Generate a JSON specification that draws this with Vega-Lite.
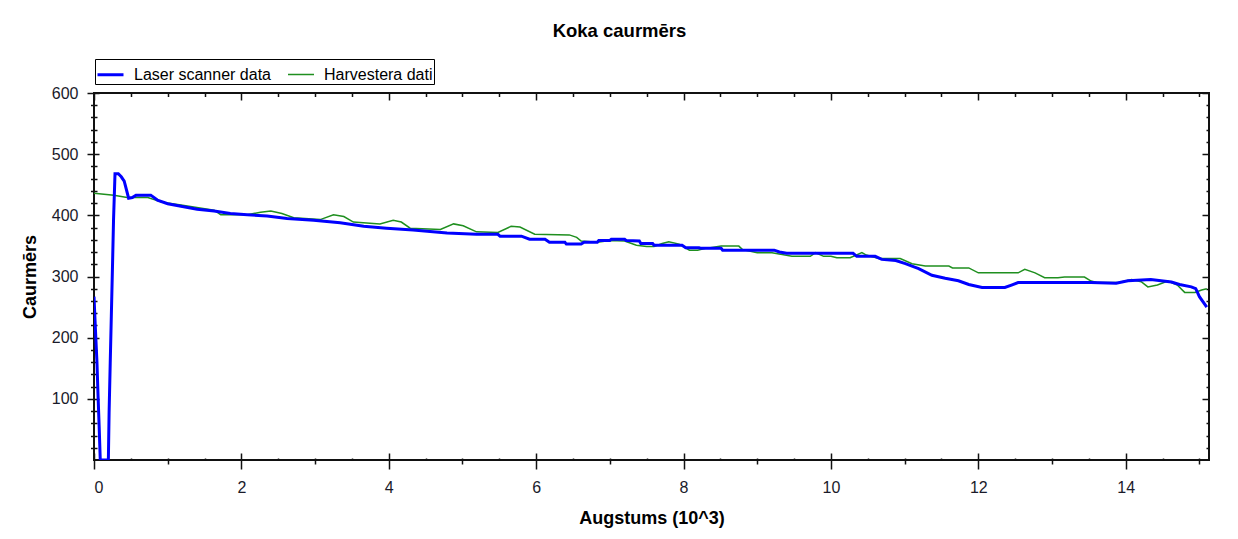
{
  "$schema": "https://vega.github.io/schema/vega-lite/v6.json",
  "width": 1115,
  "height": 367,
  "autosize": "none",
  "padding": {"left": 94, "top": 93, "right": 29, "bottom": 79},
  "background": "white",
  "title": {
    "text": "Koka caurmērs",
    "anchor": "middle",
    "frame": "group",
    "dx": -32,
    "offset": 18,
    "font": "Liberation Sans",
    "fontSize": 18.5,
    "fontWeight": "bold",
    "color": "#000000"
  },
  "data": {"values": [
    {"series":"Harvestera dati","augstums":0,"caurmers":436},
    {"series":"Harvestera dati","augstums":0.27,"caurmers":433},
    {"series":"Harvestera dati","augstums":0.45,"caurmers":429},
    {"series":"Harvestera dati","augstums":0.73,"caurmers":429},
    {"series":"Harvestera dati","augstums":0.91,"caurmers":422},
    {"series":"Harvestera dati","augstums":1.18,"caurmers":417},
    {"series":"Harvestera dati","augstums":1.63,"caurmers":408.5},
    {"series":"Harvestera dati","augstums":1.72,"caurmers":401},
    {"series":"Harvestera dati","augstums":2.08,"caurmers":401},
    {"series":"Harvestera dati","augstums":2.26,"caurmers":405},
    {"series":"Harvestera dati","augstums":2.4,"caurmers":407},
    {"series":"Harvestera dati","augstums":2.55,"caurmers":403},
    {"series":"Harvestera dati","augstums":2.71,"caurmers":396},
    {"series":"Harvestera dati","augstums":3.07,"caurmers":393},
    {"series":"Harvestera dati","augstums":3.25,"caurmers":401},
    {"series":"Harvestera dati","augstums":3.39,"caurmers":398},
    {"series":"Harvestera dati","augstums":3.52,"caurmers":389},
    {"series":"Harvestera dati","augstums":3.88,"caurmers":386},
    {"series":"Harvestera dati","augstums":4.06,"caurmers":392},
    {"series":"Harvestera dati","augstums":4.17,"caurmers":389},
    {"series":"Harvestera dati","augstums":4.29,"caurmers":379},
    {"series":"Harvestera dati","augstums":4.7,"caurmers":377},
    {"series":"Harvestera dati","augstums":4.88,"caurmers":386},
    {"series":"Harvestera dati","augstums":5.01,"caurmers":383},
    {"series":"Harvestera dati","augstums":5.19,"caurmers":373},
    {"series":"Harvestera dati","augstums":5.48,"caurmers":372},
    {"series":"Harvestera dati","augstums":5.66,"caurmers":382},
    {"series":"Harvestera dati","augstums":5.78,"caurmers":381},
    {"series":"Harvestera dati","augstums":5.98,"caurmers":369},
    {"series":"Harvestera dati","augstums":6.45,"caurmers":368},
    {"series":"Harvestera dati","augstums":6.55,"caurmers":364},
    {"series":"Harvestera dati","augstums":6.61,"caurmers":358},
    {"series":"Harvestera dati","augstums":6.83,"caurmers":356},
    {"series":"Harvestera dati","augstums":7.0,"caurmers":359},
    {"series":"Harvestera dati","augstums":7.2,"caurmers":358},
    {"series":"Harvestera dati","augstums":7.36,"caurmers":351},
    {"series":"Harvestera dati","augstums":7.5,"caurmers":349},
    {"series":"Harvestera dati","augstums":7.6,"caurmers":349},
    {"series":"Harvestera dati","augstums":7.71,"caurmers":354},
    {"series":"Harvestera dati","augstums":7.8,"caurmers":356.7},
    {"series":"Harvestera dati","augstums":7.94,"caurmers":353},
    {"series":"Harvestera dati","augstums":8.08,"caurmers":343},
    {"series":"Harvestera dati","augstums":8.19,"caurmers":343},
    {"series":"Harvestera dati","augstums":8.3,"caurmers":346},
    {"series":"Harvestera dati","augstums":8.51,"caurmers":349.7},
    {"series":"Harvestera dati","augstums":8.75,"caurmers":349.7},
    {"series":"Harvestera dati","augstums":8.8,"caurmers":344},
    {"series":"Harvestera dati","augstums":9.0,"caurmers":339},
    {"series":"Harvestera dati","augstums":9.2,"caurmers":339},
    {"series":"Harvestera dati","augstums":9.47,"caurmers":333},
    {"series":"Harvestera dati","augstums":9.72,"caurmers":333},
    {"series":"Harvestera dati","augstums":9.79,"caurmers":339},
    {"series":"Harvestera dati","augstums":9.9,"caurmers":333},
    {"series":"Harvestera dati","augstums":10.0,"caurmers":333},
    {"series":"Harvestera dati","augstums":10.08,"caurmers":330.6},
    {"series":"Harvestera dati","augstums":10.26,"caurmers":330.6},
    {"series":"Harvestera dati","augstums":10.42,"caurmers":339},
    {"series":"Harvestera dati","augstums":10.48,"caurmers":335},
    {"series":"Harvestera dati","augstums":10.65,"caurmers":329.5},
    {"series":"Harvestera dati","augstums":10.94,"caurmers":329.5},
    {"series":"Harvestera dati","augstums":11.1,"caurmers":321},
    {"series":"Harvestera dati","augstums":11.28,"caurmers":317},
    {"series":"Harvestera dati","augstums":11.6,"caurmers":317},
    {"series":"Harvestera dati","augstums":11.65,"caurmers":314},
    {"series":"Harvestera dati","augstums":11.87,"caurmers":314},
    {"series":"Harvestera dati","augstums":12.0,"caurmers":306},
    {"series":"Harvestera dati","augstums":12.54,"caurmers":306},
    {"series":"Harvestera dati","augstums":12.63,"caurmers":311.7},
    {"series":"Harvestera dati","augstums":12.77,"caurmers":306},
    {"series":"Harvestera dati","augstums":12.9,"caurmers":298},
    {"series":"Harvestera dati","augstums":13.08,"caurmers":298},
    {"series":"Harvestera dati","augstums":13.17,"caurmers":299},
    {"series":"Harvestera dati","augstums":13.44,"caurmers":299},
    {"series":"Harvestera dati","augstums":13.53,"caurmers":292.5},
    {"series":"Harvestera dati","augstums":13.62,"caurmers":290},
    {"series":"Harvestera dati","augstums":13.89,"caurmers":290},
    {"series":"Harvestera dati","augstums":14.08,"caurmers":295},
    {"series":"Harvestera dati","augstums":14.21,"caurmers":291.5},
    {"series":"Harvestera dati","augstums":14.3,"caurmers":283},
    {"series":"Harvestera dati","augstums":14.43,"caurmers":286},
    {"series":"Harvestera dati","augstums":14.57,"caurmers":292.5},
    {"series":"Harvestera dati","augstums":14.7,"caurmers":286},
    {"series":"Harvestera dati","augstums":14.8,"caurmers":274},
    {"series":"Harvestera dati","augstums":14.94,"caurmers":274},
    {"series":"Harvestera dati","augstums":15.03,"caurmers":278},
    {"series":"Harvestera dati","augstums":15.1,"caurmers":280},
    {"series":"Laser scanner data","augstums":0,"caurmers":267},
    {"series":"Laser scanner data","augstums":0.02,"caurmers":212},
    {"series":"Laser scanner data","augstums":0.04,"caurmers":160},
    {"series":"Laser scanner data","augstums":0.055,"caurmers":105},
    {"series":"Laser scanner data","augstums":0.07,"caurmers":55},
    {"series":"Laser scanner data","augstums":0.085,"caurmers":0},
    {"series":"Laser scanner data","augstums":0.195,"caurmers":0},
    {"series":"Laser scanner data","augstums":0.205,"caurmers":78},
    {"series":"Laser scanner data","augstums":0.22,"caurmers":158},
    {"series":"Laser scanner data","augstums":0.235,"caurmers":235},
    {"series":"Laser scanner data","augstums":0.25,"caurmers":312},
    {"series":"Laser scanner data","augstums":0.265,"caurmers":392},
    {"series":"Laser scanner data","augstums":0.285,"caurmers":468},
    {"series":"Laser scanner data","augstums":0.33,"caurmers":468},
    {"series":"Laser scanner data","augstums":0.37,"caurmers":463},
    {"series":"Laser scanner data","augstums":0.41,"caurmers":456},
    {"series":"Laser scanner data","augstums":0.47,"caurmers":428},
    {"series":"Laser scanner data","augstums":0.52,"caurmers":429},
    {"series":"Laser scanner data","augstums":0.57,"caurmers":433},
    {"series":"Laser scanner data","augstums":0.77,"caurmers":433},
    {"series":"Laser scanner data","augstums":0.86,"caurmers":425},
    {"series":"Laser scanner data","augstums":1.0,"caurmers":419},
    {"series":"Laser scanner data","augstums":1.18,"caurmers":415},
    {"series":"Laser scanner data","augstums":1.4,"caurmers":410},
    {"series":"Laser scanner data","augstums":1.63,"caurmers":407},
    {"series":"Laser scanner data","augstums":1.85,"caurmers":403},
    {"series":"Laser scanner data","augstums":2.08,"caurmers":401},
    {"series":"Laser scanner data","augstums":2.35,"caurmers":399},
    {"series":"Laser scanner data","augstums":2.62,"caurmers":395},
    {"series":"Laser scanner data","augstums":2.98,"caurmers":392},
    {"series":"Laser scanner data","augstums":3.34,"caurmers":388},
    {"series":"Laser scanner data","augstums":3.66,"caurmers":382},
    {"series":"Laser scanner data","augstums":3.97,"caurmers":379},
    {"series":"Laser scanner data","augstums":4.33,"caurmers":376},
    {"series":"Laser scanner data","augstums":4.79,"caurmers":371},
    {"series":"Laser scanner data","augstums":5.19,"caurmers":369},
    {"series":"Laser scanner data","augstums":5.48,"caurmers":369},
    {"series":"Laser scanner data","augstums":5.51,"caurmers":366},
    {"series":"Laser scanner data","augstums":5.8,"caurmers":366},
    {"series":"Laser scanner data","augstums":5.91,"caurmers":361},
    {"series":"Laser scanner data","augstums":6.12,"caurmers":361},
    {"series":"Laser scanner data","augstums":6.18,"caurmers":356},
    {"series":"Laser scanner data","augstums":6.39,"caurmers":356},
    {"series":"Laser scanner data","augstums":6.41,"caurmers":353},
    {"series":"Laser scanner data","augstums":6.61,"caurmers":353},
    {"series":"Laser scanner data","augstums":6.65,"caurmers":356},
    {"series":"Laser scanner data","augstums":6.83,"caurmers":356},
    {"series":"Laser scanner data","augstums":6.85,"caurmers":359},
    {"series":"Laser scanner data","augstums":7.0,"caurmers":359},
    {"series":"Laser scanner data","augstums":7.02,"caurmers":361},
    {"series":"Laser scanner data","augstums":7.2,"caurmers":361},
    {"series":"Laser scanner data","augstums":7.22,"caurmers":359},
    {"series":"Laser scanner data","augstums":7.4,"caurmers":358},
    {"series":"Laser scanner data","augstums":7.42,"caurmers":354},
    {"series":"Laser scanner data","augstums":7.58,"caurmers":354},
    {"series":"Laser scanner data","augstums":7.6,"caurmers":351},
    {"series":"Laser scanner data","augstums":7.98,"caurmers":351},
    {"series":"Laser scanner data","augstums":8.03,"caurmers":347},
    {"series":"Laser scanner data","augstums":8.21,"caurmers":347},
    {"series":"Laser scanner data","augstums":8.24,"caurmers":346},
    {"series":"Laser scanner data","augstums":8.51,"caurmers":346},
    {"series":"Laser scanner data","augstums":8.53,"caurmers":343},
    {"series":"Laser scanner data","augstums":9.23,"caurmers":343},
    {"series":"Laser scanner data","augstums":9.3,"caurmers":340},
    {"series":"Laser scanner data","augstums":9.4,"caurmers":338},
    {"series":"Laser scanner data","augstums":10.3,"caurmers":338},
    {"series":"Laser scanner data","augstums":10.35,"caurmers":333},
    {"series":"Laser scanner data","augstums":10.6,"caurmers":333},
    {"series":"Laser scanner data","augstums":10.69,"caurmers":328},
    {"series":"Laser scanner data","augstums":10.88,"caurmers":326},
    {"series":"Laser scanner data","augstums":11.01,"caurmers":321},
    {"series":"Laser scanner data","augstums":11.19,"caurmers":313},
    {"series":"Laser scanner data","augstums":11.37,"caurmers":302},
    {"series":"Laser scanner data","augstums":11.55,"caurmers":297},
    {"series":"Laser scanner data","augstums":11.73,"caurmers":293},
    {"series":"Laser scanner data","augstums":11.87,"caurmers":287},
    {"series":"Laser scanner data","augstums":12.05,"caurmers":282},
    {"series":"Laser scanner data","augstums":12.36,"caurmers":282},
    {"series":"Laser scanner data","augstums":12.45,"caurmers":286},
    {"series":"Laser scanner data","augstums":12.54,"caurmers":290},
    {"series":"Laser scanner data","augstums":13.53,"caurmers":290},
    {"series":"Laser scanner data","augstums":13.87,"caurmers":289},
    {"series":"Laser scanner data","augstums":14.03,"caurmers":293},
    {"series":"Laser scanner data","augstums":14.34,"caurmers":295},
    {"series":"Laser scanner data","augstums":14.62,"caurmers":291},
    {"series":"Laser scanner data","augstums":14.73,"caurmers":287},
    {"series":"Laser scanner data","augstums":14.89,"caurmers":283},
    {"series":"Laser scanner data","augstums":14.95,"caurmers":280},
    {"series":"Laser scanner data","augstums":15.0,"caurmers":267},
    {"series":"Laser scanner data","augstums":15.1,"caurmers":250}
  ]},
  "layer": [
    {
      "mark": {"type": "line", "clip": true, "interpolate": "linear"},
      "encoding": {
        "x": {
          "field": "augstums", "type": "quantitative",
          "scale": {"domain": [0, 15.13], "nice": false, "zero": false},
          "axis": {
            "orient": "bottom",
            "values": [0,0.5,1,1.5,2,2.5,3,3.5,4,4.5,5,5.5,6,6.5,7,7.5,8,8.5,9,9.5,10,10.5,11,11.5,12,12.5,13,13.5,14,14.5,15],
            "tickSize": {"condition": {"test": "datum.value % 2 === 0", "value": 9}, "value": 4},
            "format": "d",
            "labelExpr": "datum.value % 2 === 0 ? datum.label : ''",
            "labelOverlap": false,
            "labelPadding": 10,
            "title": "Augstums (10^3)",
            "titlePadding": 14
          }
        },
        "y": {
          "field": "caurmers", "type": "quantitative",
          "scale": {"domain": [0, 600], "nice": false},
          "axis": {
            "orient": "left",
            "values": [20,40,60,80,100,120,140,160,180,200,220,240,260,280,300,320,340,360,380,400,420,440,460,480,500,520,540,560,580,600],
            "tickSize": {"condition": {"test": "datum.value % 100 === 0", "value": 7}, "value": 3.5},
            "labelExpr": "datum.value % 100 === 0 ? datum.label : ''",
            "labelOverlap": false,
            "labelPadding": 9,
            "title": "Caurmērs",
            "titlePadding": 12
          }
        },
        "color": {
          "field": "series", "type": "nominal",
          "scale": {"domain": ["Laser scanner data", "Harvestera dati"], "range": ["#0000ff", "#1f8f1f"]},
          "legend": {
            "orient": "none",
            "legendX": 1,
            "legendY": -34,
            "direction": "horizontal",
            "title": null,
            "symbolType": "stroke",
            "symbolSize": 676,
            "labelOffset": 9,
            "columnPadding": 14,
            "padding": 1,
            "strokeColor": "#000000",
            "fillColor": "#ffffff",
            "labelFont": "Liberation Sans",
            "labelFontSize": 16,
            "labelColor": "#000000"
          }
        },
        "strokeWidth": {
          "field": "series", "type": "nominal",
          "scale": {"type": "ordinal", "domain": ["Laser scanner data", "Harvestera dati"], "range": [3, 1.5]},
          "legend": {
            "orient": "none",
            "legendX": 1,
            "legendY": -34,
            "direction": "horizontal",
            "title": null,
            "symbolType": "stroke",
            "symbolSize": 676,
            "labelOffset": 9,
            "columnPadding": 14,
            "padding": 1,
            "strokeColor": "#000000",
            "fillColor": "#ffffff",
            "labelFont": "Liberation Sans",
            "labelFontSize": 16,
            "labelColor": "#000000"
          }
        }
      }
    },
    {
      "mark": {"type": "point", "opacity": 0},
      "encoding": {
        "x": {
          "field": "augstums", "type": "quantitative",
          "axis": {
            "orient": "bottom",
            "values": [0,0.5,1,1.5,2,2.5,3,3.5,4,4.5,5,5.5,6,6.5,7,7.5,8,8.5,9,9.5,10,10.5,11,11.5,12,12.5,13,13.5,14,14.5,15],
            "tickSize": {"condition": {"test": "datum.value % 2 === 0", "value": -7}, "value": -2},
            "labels": false, "domain": false, "title": null
          }
        },
        "y": {
          "field": "caurmers", "type": "quantitative",
          "axis": {
            "orient": "left",
            "values": [20,40,60,80,100,120,140,160,180,200,220,240,260,280,300,320,340,360,380,400,420,440,460,480,500,520,540,560,580,600],
            "tickSize": {"condition": {"test": "datum.value % 100 === 0", "value": -5}, "value": -3},
            "labels": false, "domain": false, "title": null
          }
        }
      }
    },
    {
      "mark": {"type": "point", "opacity": 0},
      "encoding": {
        "x": {
          "field": "augstums", "type": "quantitative",
          "axis": {
            "orient": "top",
            "values": [0,0.5,1,1.5,2,2.5,3,3.5,4,4.5,5,5.5,6,6.5,7,7.5,8,8.5,9,9.5,10,10.5,11,11.5,12,12.5,13,13.5,14,14.5,15],
            "tickSize": {"condition": {"test": "datum.value % 2 === 0", "value": -7}, "value": -3.5},
            "labels": false, "domain": false, "title": null
          }
        },
        "y": {
          "field": "caurmers", "type": "quantitative",
          "axis": {
            "orient": "right",
            "values": [20,40,60,80,100,120,140,160,180,200,220,240,260,280,300,320,340,360,380,400,420,440,460,480,500,520,540,560,580,600],
            "tickSize": {"condition": {"test": "datum.value % 100 === 0", "value": -7}, "value": -3},
            "labels": false, "domain": false, "title": null
          }
        }
      }
    }
  ],
  "resolve": {"axis": {"x": "independent", "y": "independent"}},
  "config": {
    "view": {"stroke": "#111111", "strokeWidth": 2},
    "axis": {
      "grid": false,
      "domain": false,
      "tickColor": "#111111",
      "tickWidth": 1.5,
      "labelFont": "Liberation Sans",
      "labelFontSize": 16,
      "labelColor": "#1a1a2a",
      "titleFont": "Liberation Sans",
      "titleFontSize": 18,
      "titleFontWeight": "bold",
      "titleColor": "#000000"
    }
  }
}
